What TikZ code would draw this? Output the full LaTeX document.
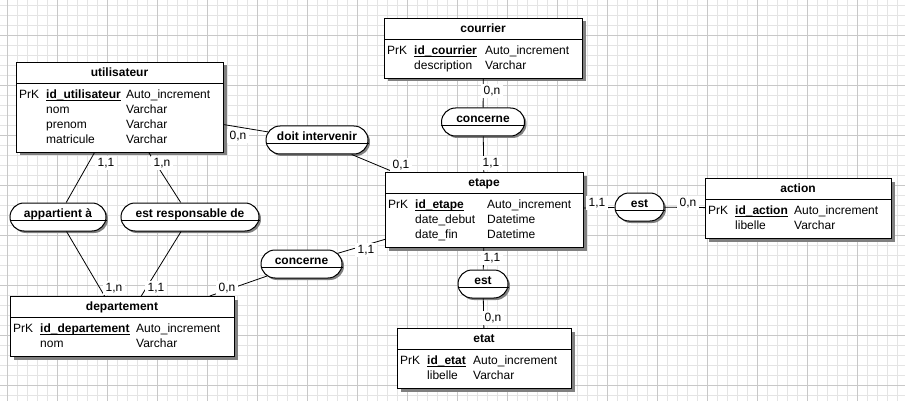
\documentclass[tikz,border=0pt]{standalone}
\usepackage{fontspec}
\setmainfont{Liberation Sans}
\usetikzlibrary{shapes.misc,shadows}
\definecolor{gridminor}{RGB}{228,228,228}
\definecolor{gridmajor}{RGB}{200,200,200}
\definecolor{shadowgray}{RGB}{128,128,128}
\newsavebox{\keybox}
\newcommand{\idkey}[1]{\leavevmode\sbox{\keybox}{\textbf{#1}}\rlap{\rule[-2pt]{\wd\keybox}{0.9pt}}\usebox{\keybox}}
\tikzset{
  entity/.style={draw, fill=white, line width=1pt, anchor=north west, inner sep=0pt,
    drop shadow={shadow xshift=3pt, shadow yshift=-3pt, opacity=1, fill=shadowgray}},
  relation/.style={rounded rectangle, draw, fill=white, line width=1pt, minimum height=28pt, inner sep=0pt,
    drop shadow={shadow xshift=2pt, shadow yshift=-2pt, opacity=1, fill=shadowgray}},
  etitle/.style={font=\fontsize{12}{15}\selectfont\bfseries, inner sep=0pt, text height=8.8pt, text depth=2.5pt},
  attrs/.style={anchor=north west, inner sep=0pt},
  card/.style={fill=white, inner xsep=3pt, inner ysep=2pt, text height=8.6pt, text depth=2pt},
  link/.style={line width=0.8pt},
  gridline/.style={gridminor, line width=1pt},
  gridbold/.style={gridmajor, line width=1pt}
}
\begin{document}
\begin{tikzpicture}[x=1pt, y=-1pt, font=\fontsize{12}{15}\selectfont]
  \fill[white] (0,0) rectangle (905,401);
  \useasboundingbox (0,0) rectangle (905,401);
  % grid
  \foreach \gx in {7.5,17.5,...,897.5}
  \draw[gridline] (\gx,0) -- (\gx,401);
  \foreach \gy in {5.5,15.5,...,395.5}
  \draw[gridline] (0,\gy) -- (905,\gy);
  \foreach \gx in {7.5,57.5,...,857.5}
  \draw[gridbold] (\gx,0) -- (\gx,401);
  \foreach \gy in {35.5,85.5,...,385.5}
  \draw[gridbold] (0,\gy) -- (905,\gy);

  % entities
  \node[entity, minimum width=207pt, minimum height=90pt] (util) at (16,62) {};
  \draw ([yshift=-21pt]util.north west) -- ([yshift=-21pt]util.north east);
  \node[etitle] (util-t) at (119.5,73) {utilisateur};
  \node[attrs] (util-a) at (19,88) {\begin{tabular}{@{}p{27pt}@{}p{80pt}@{}l@{}}
    PrK & \idkey{id\_utilisateur} & Auto\_increment\\
    & nom & Varchar\\
    & prenom & Varchar\\
    & matricule & Varchar
  \end{tabular}};

  \node[entity, minimum width=198pt, minimum height=60pt] (courrier) at (384,18) {};
  \draw ([yshift=-21pt]courrier.north west) -- ([yshift=-21pt]courrier.north east);
  \node[etitle] (courrier-t) at (483,29) {courrier};
  \node[attrs] (courrier-a) at (387,44) {\begin{tabular}{@{}p{27pt}@{}p{71pt}@{}l@{}}
    PrK & \idkey{id\_courrier} & Auto\_increment\\
    & description & Varchar
  \end{tabular}};

  \node[entity, minimum width=198pt, minimum height=75pt] (etape) at (385,172) {};
  \draw ([yshift=-21pt]etape.north west) -- ([yshift=-21pt]etape.north east);
  \node[etitle] (etape-t) at (484,183) {etape};
  \node[attrs] (etape-a) at (388,198) {\begin{tabular}{@{}p{27pt}@{}p{72pt}@{}l@{}}
    PrK & \idkey{id\_etape} & Auto\_increment\\
    & date\_debut & Datetime\\
    & date\_fin & Datetime
  \end{tabular}};

  \node[entity, minimum width=186pt, minimum height=60pt] (action) at (705,178) {};
  \draw ([yshift=-21pt]action.north west) -- ([yshift=-21pt]action.north east);
  \node[etitle] (action-t) at (798,189) {action};
  \node[attrs] (action-a) at (708,204) {\begin{tabular}{@{}p{27pt}@{}p{59pt}@{}l@{}}
    PrK & \idkey{id\_action} & Auto\_increment\\
    & libelle & Varchar
  \end{tabular}};

  \node[entity, minimum width=224pt, minimum height=60pt] (dept) at (10,296) {};
  \draw ([yshift=-21pt]dept.north west) -- ([yshift=-21pt]dept.north east);
  \node[etitle] (dept-t) at (122,307) {departement};
  \node[attrs] (dept-a) at (13,322) {\begin{tabular}{@{}p{27pt}@{}p{96pt}@{}l@{}}
    PrK & \idkey{id\_departement} & Auto\_increment\\
    & nom & Varchar
  \end{tabular}};

  \node[entity, minimum width=174pt, minimum height=60pt] (etat) at (397,328) {};
  \draw ([yshift=-21pt]etat.north west) -- ([yshift=-21pt]etat.north east);
  \node[etitle] (etat-t) at (484,339) {etat};
  \node[attrs] (etat-a) at (400,354) {\begin{tabular}{@{}p{27pt}@{}p{46pt}@{}l@{}}
    PrK & \idkey{id\_etat} & Auto\_increment\\
    & libelle & Varchar
  \end{tabular}};

  % relations
  \node[relation, minimum width=102pt] (doit) at (317,140) {};
  \draw ([yshift=-3pt]doit.west) -- ([yshift=-3pt]doit.east);
  \node[etitle] (doit-t) at (317,137) {doit intervenir};

  \node[relation, minimum width=83pt] (concC) at (483,122) {};
  \draw ([yshift=-3pt]concC.west) -- ([yshift=-3pt]concC.east);
  \node[etitle] (concC-t) at (483,119) {concerne};

  \node[relation, minimum width=96pt] (appart) at (58,217) {};
  \draw ([yshift=-3pt]appart.west) -- ([yshift=-3pt]appart.east);
  \node[etitle] (appart-t) at (58,214) {appartient à};

  \node[relation, minimum width=138pt] (resp) at (190,217) {};
  \draw ([yshift=-3pt]resp.west) -- ([yshift=-3pt]resp.east);
  \node[etitle] (resp-t) at (190,214) {est responsable de};

  \node[relation, minimum width=81pt] (concD) at (301.5,264) {};
  \draw ([yshift=-3pt]concD.west) -- ([yshift=-3pt]concD.east);
  \node[etitle] (concD-t) at (301.5,261) {concerne};

  \node[relation, minimum width=49pt] (estA) at (639.5,207) {};
  \draw ([yshift=-3pt]estA.west) -- ([yshift=-3pt]estA.east);
  \node[etitle] (estA-t) at (639.5,204) {est};

  \node[relation, minimum width=50pt] (estE) at (483,284) {};
  \draw ([yshift=-3pt]estE.west) -- ([yshift=-3pt]estE.east);
  \node[etitle] (estE-t) at (483,281) {est};

  % links
  \draw[link] (util) -- (doit);
  \draw[link] (doit) -- (etape);
  \draw[link] (courrier) -- (concC);
  \draw[link] (concC) -- (etape);
  \draw[link] (util) -- (appart);
  \draw[link] (appart) -- (dept);
  \draw[link] (util) -- (resp);
  \draw[link] (resp) -- (dept);
  \draw[link] (dept) -- (concD);
  \draw[link] (concD) -- (etape);
  \draw[link] (etape) -- (estA);
  \draw[link] (estA) -- (action);
  \draw[link] (etape) -- (estE);
  \draw[link] (estE) -- (etat);

  % cardinalities
  \node[card] (c1) at (238,136) {0,n};
  \node[card] (c2) at (401,165) {0,1};
  \node[card] (c3) at (492,91) {0,n};
  \node[card] (c4) at (491,163) {1,1};
  \node[card] (c5) at (106,163) {1,1};
  \node[card] (c6) at (162,163) {1,n};
  \node[card] (c7) at (114,288) {1,n};
  \node[card] (c8) at (156,288) {1,1};
  \node[card] (c9) at (227,288) {0,n};
  \node[card] (c10) at (366,250) {1,1};
  \node[card] (c11) at (597,203) {1,1};
  \node[card] (c12) at (688,203) {0,n};
  \node[card] (c13) at (492,258) {1,1};
  \node[card] (c14) at (493,318) {0,n};
\end{tikzpicture}
\end{document}
